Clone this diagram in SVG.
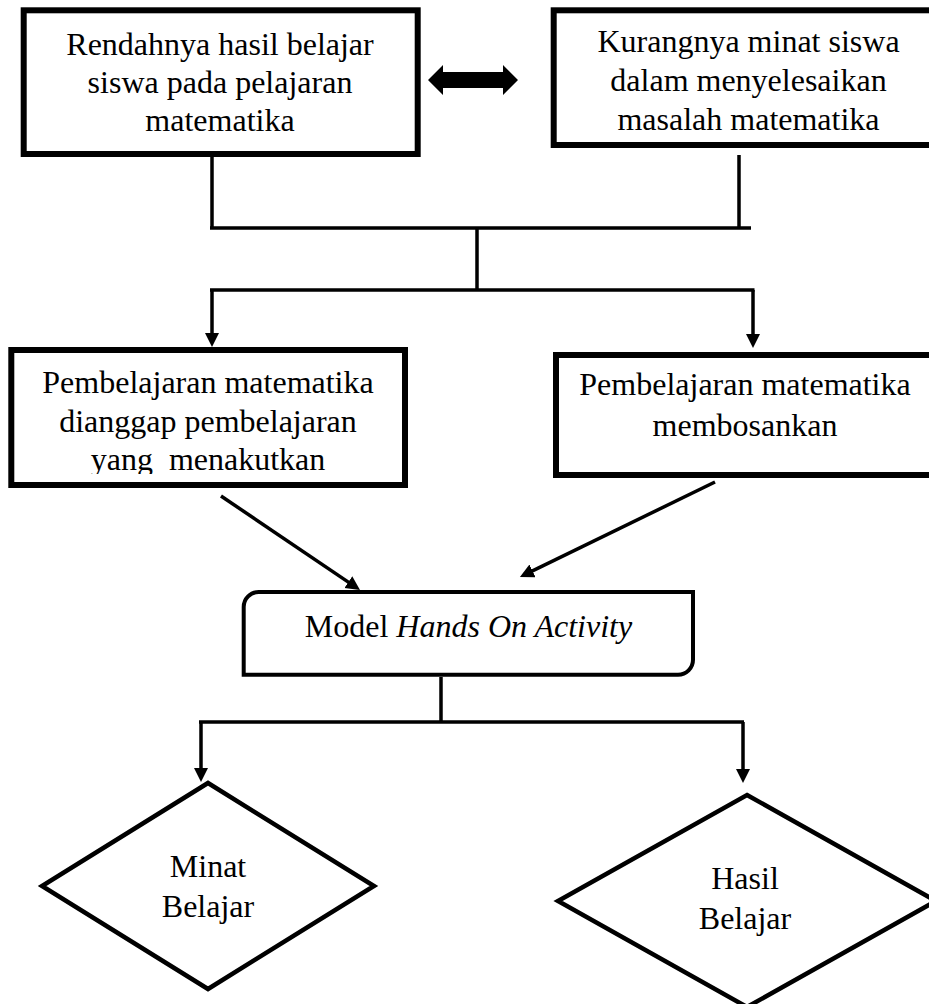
<svg xmlns="http://www.w3.org/2000/svg" width="929" height="1004" viewBox="0 0 929 1004">
<style>
.box{fill:#fff;stroke:#000;stroke-width:6}
.rbox{fill:#fff;stroke:#000;stroke-width:4}
.dia{fill:#fff;stroke:#000;stroke-width:4.5}
.conn{fill:none;stroke:#000;stroke-width:3.5}
.t{font-family:"Liberation Serif","Times New Roman",serif;font-size:32px;fill:#000;text-anchor:middle}
.it{font-style:italic}
</style>
<defs>
<marker id="ah" markerUnits="userSpaceOnUse" markerWidth="16" markerHeight="16" refX="8" refY="7" orient="auto">
<path d="M0,0 L14,7 L0,14 Z" fill="#000"/>
</marker>
<clipPath id="c3"><rect x="0" y="340" width="420" height="134"/></clipPath>
</defs>

<g id="connectors">
<path class="conn" d="M212,157 V228 M739,155 V228 M210,228 H751 M477,228 V290 M210,290 H754.5"/>
<line class="conn" x1="212" y1="290" x2="212" y2="341" marker-end="url(#ah)"/>
<line class="conn" x1="753" y1="290" x2="753" y2="342" marker-end="url(#ah)"/>
<line class="conn" x1="221" y1="496" x2="355" y2="586.6" marker-end="url(#ah)"/>
<line class="conn" x1="715" y1="482" x2="525.3" y2="574.4" marker-end="url(#ah)"/>
<path class="conn" d="M441,677 V722 M199,722 H744"/>
<line class="conn" x1="201" y1="722" x2="201" y2="776" marker-end="url(#ah)"/>
<line class="conn" x1="743" y1="722" x2="743" y2="777" marker-end="url(#ah)"/>
<polygon id="double-arrow" points="428,80 443,65 443,72 503,72 503,65 518,80 503,95 503,88 443,88 443,95" fill="#000"/>
</g>

<g id="box1">
<rect class="box" x="23.7" y="10.3" width="394" height="143.7"/>
<text class="t" x="220" y="55">Rendahnya hasil belajar</text>
<text class="t" x="220" y="93">siswa pada pelajaran</text>
<text class="t" x="220" y="131">matematika</text>
</g>

<g id="box2">
<rect class="box" x="553.7" y="10.3" width="395" height="134.7"/>
<text class="t" x="748.5" y="52">Kurangnya minat siswa</text>
<text class="t" x="748.5" y="91">dalam menyelesaikan</text>
<text class="t" x="748.5" y="130">masalah matematika</text>
</g>

<g id="box3">
<rect class="box" x="11.3" y="350" width="393.7" height="135"/>
<text class="t" x="208" y="393">Pembelajaran matematika</text>
<text class="t" x="208" y="432">dianggap pembelajaran</text>
<text class="t" x="208" y="470" clip-path="url(#c3)" xml:space="preserve">yang  menakutkan</text>
</g>

<g id="box4">
<rect class="box" x="556" y="355" width="380" height="120"/>
<text class="t" x="745" y="395">Pembelajaran matematika</text>
<text class="t" x="745" y="436">membosankan</text>
</g>

<g id="model">
<path class="rbox" d="M243.7,674.7 V607 A15,15 0 0 1 258.7,592 H693 V659.7 A15,15 0 0 1 678,674.7 Z"/>
<text class="t" x="468.5" y="637">Model <tspan class="it">Hands On Activity</tspan></text>
</g>

<g id="minat">
<polygon class="dia" points="208,783 374,886 208,989 42,886"/>
<text class="t" x="208" y="877">Minat</text>
<text class="t" x="208" y="917">Belajar</text>
</g>

<g id="hasil">
<polygon class="dia" points="747,795 936,901 747,1007 558,901"/>
<text class="t" x="745" y="889">Hasil</text>
<text class="t" x="745" y="929">Belajar</text>
</g>
</svg>
